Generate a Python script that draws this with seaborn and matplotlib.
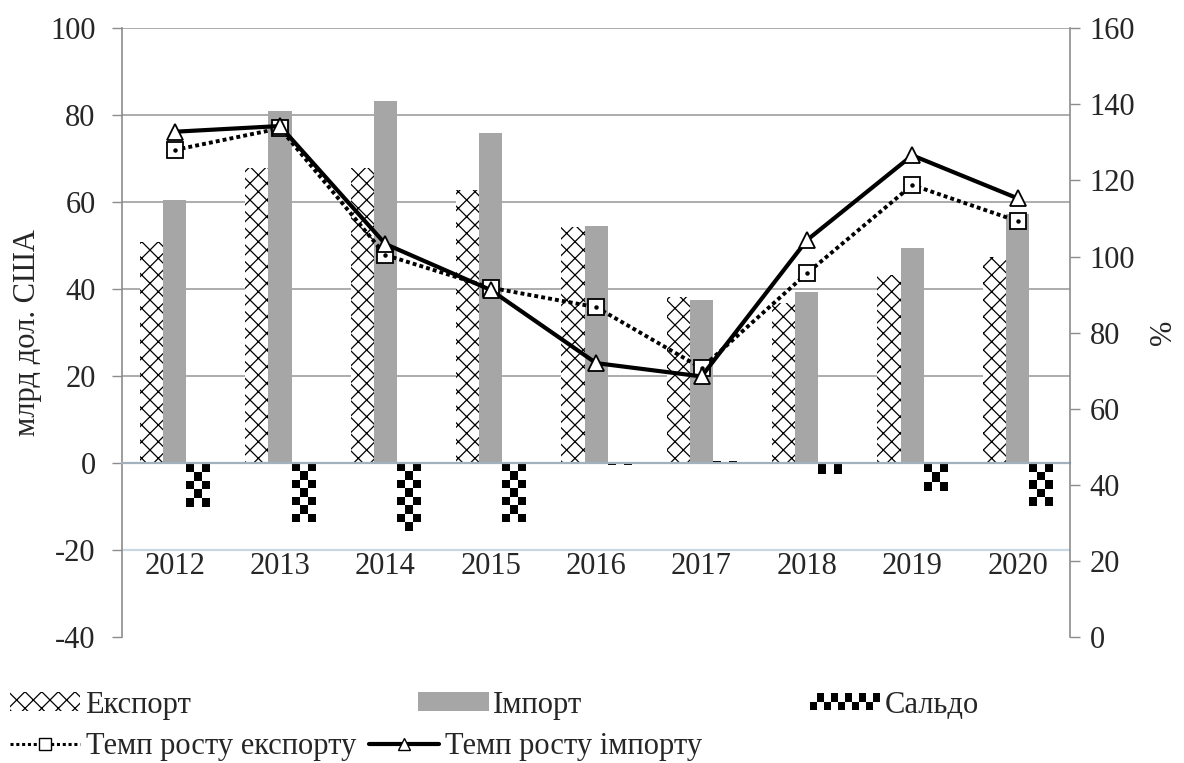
import numpy as np
import pandas as pd
import seaborn as sns
import matplotlib.pyplot as plt
from matplotlib.patches import Patch, Rectangle
from matplotlib.lines import Line2D
from matplotlib.legend_handler import HandlerBase

years = ['2012', '2013', '2014', '2015', '2016', '2017', '2018', '2019', '2020']
export_vals = [50.8, 67.8, 67.8, 62.8, 54.3, 38.2, 36.8, 43.2, 47.4]
import_vals = [60.5, 80.9, 83.2, 75.9, 54.6, 37.5, 39.3, 49.4, 57.2]
saldo_vals = [-10.0, -13.5, -15.5, -13.5, -0.5, 0.6, -2.4, -6.3, -9.8]
export_rate = [128.0, 133.7, 100.4, 91.8, 86.7, 70.7, 95.6, 118.8, 109.3]
import_rate = [132.8, 134.3, 103.3, 91.2, 72.0, 68.5, 104.3, 126.6, 115.3]

names = ['Експорт', 'Імпорт', 'Сальдо']

df = pd.DataFrame({
    'year': years * 3,
    'series': [n for n in names for _ in years],
    'value': export_vals + import_vals + saldo_vals,
})

sns.set_style('white')
plt.rcParams['font.family'] = ['Liberation Serif', 'DejaVu Serif']
plt.rcParams['axes.unicode_minus'] = False
plt.rcParams['hatch.linewidth'] = 0.9
FS = 22
GRAY = '#a6a6a6'
AXC = '#8c8c8c'

fig = plt.figure(figsize=(11.84, 7.63), dpi=100)
ax = fig.add_axes([0.103, 0.165, 0.801, 0.798])

sns.barplot(data=df, x='year', y='value', hue='series', hue_order=names,
            palette=['white', GRAY, 'black'], width=0.66, legend=False,
            ax=ax, zorder=2)

# export: diamond hatch, import: plain gray, saldo: checkerboard
for p in ax.containers[0]:
    p.set_facecolor('white')
    p.set_edgecolor('black')
    p.set_hatch('xx')
    p.set_linewidth(0)
for p in ax.containers[1]:
    p.set_facecolor(GRAY)
    p.set_linewidth(0)
for p in ax.containers[2]:
    p.set_facecolor('white')
    p.set_linewidth(0)
    x0, y0, w, h = p.get_x(), p.get_y(), p.get_width(), p.get_height()
    ny = max(1, int(round(abs(h) / 1.9)))
    board = (np.add.outer(np.arange(ny), np.arange(3)) % 2).astype(float)
    im = ax.imshow(board, cmap='gray', vmin=0, vmax=1, aspect='auto',
                   extent=(x0, x0 + w, min(y0, y0 + h), max(y0, y0 + h)),
                   interpolation='nearest', zorder=2.5)
    im.set_clip_path(p)

ax.set_xlim(-0.5, 8.5)
ax.set_ylim(-40, 100)
ax.set_yticks(np.arange(-40, 101, 20))
ax.yaxis.grid(True, color=GRAY, linewidth=1.3)
ax.set_axisbelow(True)
for val, gl in zip(np.arange(-40, 101, 20), ax.get_ygridlines()):
    if val == -40 or val == 0:
        gl.set_visible(False)
    elif val == -20:
        gl.set_color('#c9d6e3')
        gl.set_linewidth(1.6)

ax.spines['bottom'].set_position(('data', 0))
ax.spines['bottom'].set_color('#a3b1bf')
ax.spines['bottom'].set_linewidth(1.6)
ax.spines['left'].set_color(AXC)
ax.spines['left'].set_linewidth(1.2)
ax.spines['top'].set_visible(False)
ax.spines['right'].set_visible(False)

ax.set_xticks(np.arange(9))
ax.set_xticklabels(years)
ax.set_xticks(np.arange(-0.5, 9, 1), minor=True)
ax.tick_params(axis='x', which='major', length=0, pad=64, labelsize=FS)
ax.tick_params(axis='x', which='minor', direction='out', length=6,
               color=AXC, width=1)
ax.tick_params(axis='y', direction='out', length=7, color=AXC, width=1,
               left=True, pad=12, labelsize=FS)
ax.set_xlabel('')
ax.set_ylabel('млрд дол. США', fontsize=FS, labelpad=6)

ax2 = ax.twinx()
xs = np.arange(9)
sns.lineplot(x=xs, y=export_rate, ax=ax2, color='black', linewidth=2.8,
             linestyle=(0, (1, 0.8)), marker='s', markersize=11,
             markerfacecolor='white', markeredgecolor='black',
             markeredgewidth=1.3, zorder=5)
ax2.plot(xs, export_rate, linestyle='none', marker='o', markersize=2.2,
         color='black', zorder=6)
sns.lineplot(x=xs, y=import_rate, ax=ax2, color='black', linewidth=3,
             marker='^', markersize=12, markerfacecolor='white',
             markeredgecolor='black', markeredgewidth=1.3, zorder=7)
ax2.set_ylim(0, 160)
ax2.set_yticks(np.arange(0, 161, 20))
ax2.tick_params(axis='y', direction='out', length=7, color=AXC, width=1,
                right=True, pad=7, labelsize=FS)
ax2.set_ylabel('%', fontsize=FS, labelpad=10)
for s in ['top', 'bottom', 'left']:
    ax2.spines[s].set_visible(False)
ax2.spines['right'].set_color(AXC)
ax2.spines['right'].set_linewidth(1.2)


class CheckerHandler(HandlerBase):
    def create_artists(self, legend, orig_handle, xdescent, ydescent,
                       width, height, fontsize, trans):
        arts = []
        ncol = 10
        cw = width / ncol
        ch = height * 0.45
        y0 = -ydescent + height * 0.05
        for i in range(ncol):
            for j in range(2):
                if (i + j) % 2 == 0:
                    r = Rectangle((-xdescent + i * cw, y0 + j * ch), cw, ch,
                                  facecolor='black', edgecolor='none',
                                  transform=trans)
                    arts.append(r)
        return arts


h_exp = Patch(facecolor='white', edgecolor='black', hatch='xx', linewidth=0)
h_imp = Patch(facecolor=GRAY, edgecolor='none')
h_sal = Patch(facecolor='black')
leg1 = fig.legend([h_exp, h_imp, h_sal], names, loc='center left',
                  bbox_to_anchor=(0.0085, 0.076), ncol=3, frameon=False,
                  fontsize=FS, handlelength=2.3, handleheight=0.6,
                  handletextpad=0.15, columnspacing=7.45, borderaxespad=0,
                  borderpad=0, handler_map={h_sal: CheckerHandler()})

h_er = Line2D([], [], color='black', linewidth=2.2, linestyle=(0, (1, 0.9)),
              marker='s', markersize=9, markerfacecolor='white',
              markeredgecolor='black', markeredgewidth=1.0)
h_ir = Line2D([], [], color='black', linewidth=3, marker='^', markersize=9,
              markerfacecolor='white', markeredgecolor='black',
              markeredgewidth=1.0)
leg2 = fig.legend([h_er, h_ir], ['Темп росту експорту', 'Темп росту імпорту'],
                  loc='center left', bbox_to_anchor=(0.0085, 0.021), ncol=2,
                  frameon=False, fontsize=FS, handlelength=2.3,
                  handletextpad=0.2, columnspacing=0.4, borderaxespad=0,
                  borderpad=0)

fig.savefig('out.png', dpi=100)
